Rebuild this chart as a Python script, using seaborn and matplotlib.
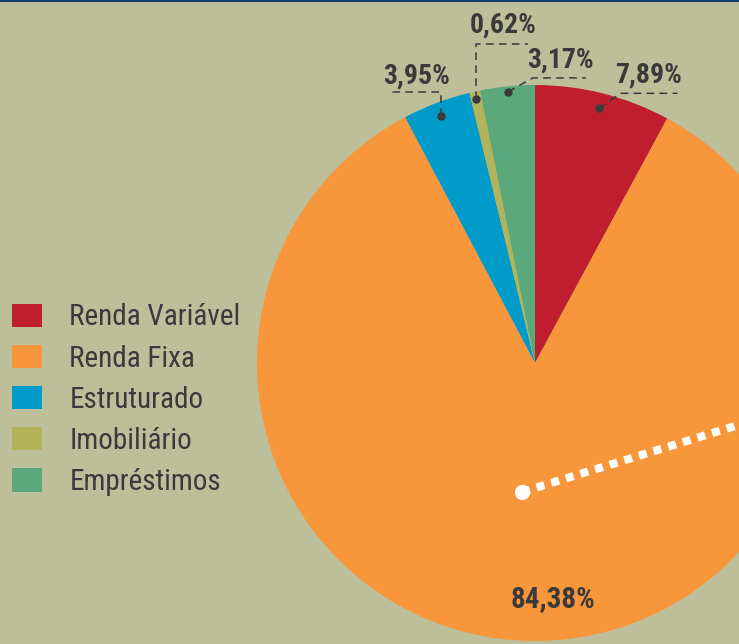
import numpy as np
import matplotlib
matplotlib.use("Agg")
import matplotlib.pyplot as plt
import seaborn as sns

# data
categories = ["Renda Variável", "Renda Fixa", "Estruturado", "Imobiliário", "Empréstimos"]
shares = [7.89, 84.38, 3.95, 0.62, 3.17]
pct_labels = ["7,89%", "84,38%", "3,95%", "0,62%", "3,17%"]
colors = ["#be1e2d", "#f7963a", "#009bc8", "#b3b35a", "#5ba87a"]

bg = "#bdbf9a"
ink = "#3a3a3a"

sns.set_style("white", {"axes.facecolor": bg, "figure.facecolor": bg})
plt.rcParams["font.family"] = ["Roboto Condensed", "DejaVu Sans"]

fig = plt.figure(figsize=(7.39, 6.44), dpi=100)
ax = fig.add_axes([0, 0, 1, 1])
ax.set_facecolor(bg)

wedges, _ = ax.pie(shares, colors=colors, startangle=90, counterclock=False,
                   radius=1.0, wedgeprops=dict(linewidth=0))

# 1 data unit = pie radius = 278 px
px = 1 / 278.0
ax.set_xlim(-535 * px, (739 - 535) * px)
ax.set_ylim(-(644 - 363) * px, 363 * px)
ax.set_aspect("auto")
ax.axis("off")

# small labels with dashed leaders: (dot radius, knee offset, end offset, text offset) in px
leaders = {
    0: (0.945, (21, 15), (78, 15), (49, 33)),
    2: (0.952, (0, 24), (-51, 24), (-25, 39)),
    3: (0.974, (0, 55), (52, 55), (27, 74)),
    4: (0.980, (25, 14), (78, 14), (53, 32)),
}

for i, w in enumerate(wedges):
    mid = np.deg2rad((w.theta1 + w.theta2) / 2)
    if i in leaders:
        r, knee, end, toff = leaders[i]
        x0, y0 = r * np.cos(mid), r * np.sin(mid)
        xs = [x0, x0 + knee[0] * px, x0 + end[0] * px]
        ys = [y0, y0 + knee[1] * px, y0 + end[1] * px]
        ax.plot(xs, ys, color=ink, lw=1.1, dashes=(5, 3.5), zorder=5)
        ax.plot(x0, y0, "o", color=ink, ms=5, zorder=6)
        ax.text(x0 + toff[0] * px, y0 + toff[1] * px, pct_labels[i], ha="center", va="center",
                fontsize=20, fontweight="bold", color=ink)
    else:
        # big slice label, nudged a little right like the original
        ax.text(0.848 * np.cos(mid) + 19 * px, 0.848 * np.sin(mid), pct_labels[i],
                ha="center", va="center", fontsize=21, fontweight="bold", color=ink)

# white dotted decoration line
sx, sy = -13 * px, -129 * px
ang = np.deg2rad(17.2)
ax.plot([sx, sx + 1.2 * np.cos(ang)], [sy, sy + 1.2 * np.sin(ang)], color="white",
        lw=5.8, dashes=(1, 0.9), solid_capstyle="butt", dash_capstyle="butt", zorder=7)
ax.plot(sx, sy, "o", color="white", ms=10, zorder=8)

leg = ax.legend(wedges, categories, loc="upper left", bbox_to_anchor=(0.001, 0.547),
                frameon=False, fontsize=21, handlelength=1.0, handleheight=0.86,
                handletextpad=0.95, labelspacing=0.45, borderaxespad=0)
for t in leg.get_texts():
    t.set_color(ink)

# thin navy rule at the top
fig.add_artist(plt.Rectangle((0, 1 - 2 / 644), 1, 2 / 644, transform=fig.transFigure,
                             color="#123d68", lw=0))

fig.savefig("out.png", dpi=100, facecolor=bg)
